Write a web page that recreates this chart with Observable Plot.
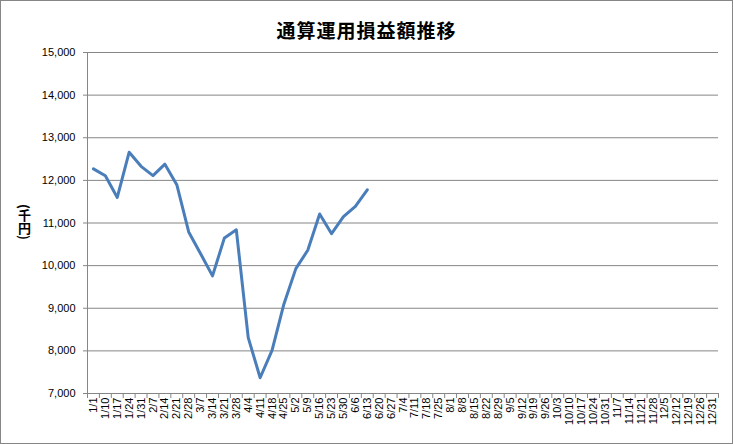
<!DOCTYPE html>
<html><head><meta charset="utf-8">
<script src="https://cdn.jsdelivr.net/npm/d3@7"></script>
<script src="https://cdn.jsdelivr.net/npm/@observablehq/plot@0.6"></script>
<style>
body{margin:0;background:#fff}
#wrap{position:relative;width:733px;height:444px;background:#fff;overflow:hidden}
#title{height:40px;box-sizing:border-box;padding-top:20px;line-height:20px;text-align:center;font-family:"Noto Sans CJK JP";font-size:19px;font-weight:bold;letter-spacing:1px;color:#000}
#ylab{position:absolute;left:16px;top:204px;writing-mode:vertical-rl;font-family:"Noto Sans CJK JP";font-size:13px;font-weight:bold;line-height:16px;color:#000}
#border{position:absolute;left:0;top:0;right:0;bottom:0;border:1px solid #868686;pointer-events:none}
</style>
</head><body>
<div id="wrap">
<div id="title">通算運用損益額推移</div>
<div id="chart"></div>
<div id="ylab">(千円)</div>
<div id="border"></div>
</div>
<script>
const dates = ["1/1","1/10","1/17","1/24","1/31","2/7","2/14","2/21","2/28","3/7","3/14","3/21","3/28","4/4","4/11","4/18","4/25","5/2","5/9","5/16","5/23","5/30","6/6","6/13","6/20","6/27","7/4","7/11","7/18","7/25","8/1","8/8","8/15","8/22","8/29","9/5","9/12","9/19","9/26","10/3","10/10","10/17","10/24","10/31","11/7","11/14","11/21","11/28","12/5","12/12","12/19","12/26","12/31"];
const values = [12270,12110,11600,12660,12330,12110,12380,11900,10790,10280,9760,10650,10840,8310,7370,8010,9100,9930,10360,11210,10750,11150,11390,11780];
const yTicks = [7000,8000,9000,10000,11000,12000,13000,14000,15000];

const data = values.map((v, i) => ({date: dates[i], idx: i, value: v}));
const n = dates.length;

const chart = Plot.plot({
  width: 733,
  height: 404,
  marginTop: 12,
  marginBottom: 51,
  marginLeft: 87,
  marginRight: 15,
  style: {fontFamily: "Liberation Sans, Arial, sans-serif", fontSize: "11px", background: "transparent", overflow: "visible"},
  x: {type: "linear", domain: [-0.5, n - 0.5], label: null},
  y: {domain: [7000, 15000], label: null},
  marks: [
    Plot.gridY(yTicks, {stroke: "#868686", strokeOpacity: 1, strokeWidth: 1}),
    Plot.ruleX([-0.5], {stroke: "#868686"}),
    Plot.axisY({ticks: yTicks, tickSize: 4, tickPadding: 8, tickFormat: d3.format(","), stroke: "#868686", fill: "#000", fontSize: 11, label: null}),
    Plot.axisX({ticks: d3.range(n + 1).map(i => i - 0.5), tickSize: 5, tickFormat: () => "", stroke: "#868686", label: null}),
    Plot.axisX({ticks: d3.range(n), tickSize: 0, tickPadding: 4, tickRotate: -90, tickFormat: i => dates[i], fill: "#000", fontSize: 11, label: null}),
    Plot.lineY(data, {x: "idx", y: "value", stroke: "#4a7ebb", strokeWidth: 3, strokeLinejoin: "round"})
  ]
});
document.getElementById("chart").appendChild(chart);
</script>
</body></html>
